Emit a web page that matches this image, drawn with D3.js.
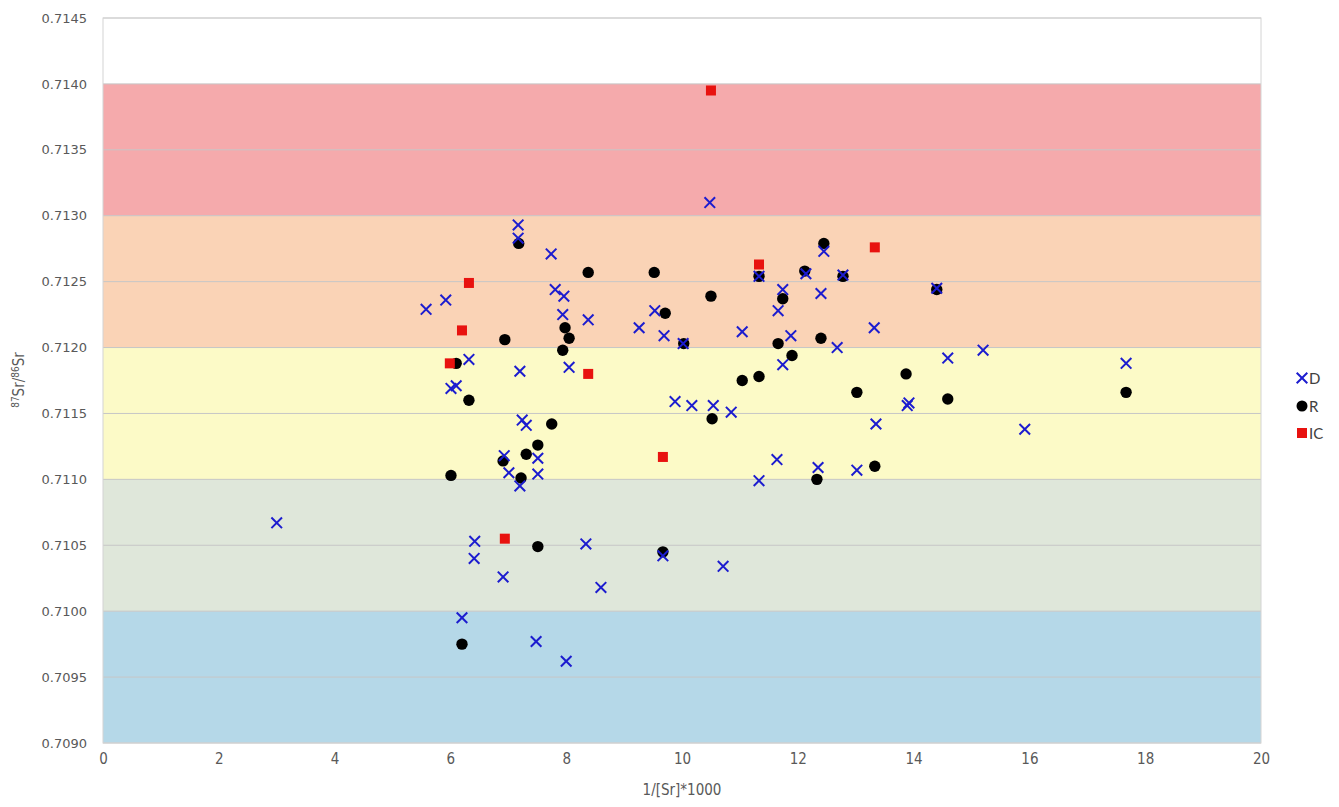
<!DOCTYPE html>
<html>
<head>
<meta charset="utf-8">
<script src="https://cdn.jsdelivr.net/npm/d3@7"></script>
<style>
  body { margin: 0; background: #fff; }
  svg { display: block; }
  .narrow { font-family: "DejaVu Sans Condensed", "DejaVu Sans", sans-serif; font-stretch: condensed; }
</style>
</head>
<body>
<svg id="chart" width="1339" height="807"></svg>
<script>
// D series (blue crosses)
var dX = [3.0, 5.58, 5.92, 6.01, 6.10, 6.32, 6.20, 6.42, 6.41, 6.91, 6.93, 7.01, 7.17, 7.17, 7.20, 7.24, 7.31, 7.20,
  7.74, 7.81, 7.96, 7.94, 8.05, 7.51, 7.51, 7.48, 8.0, 8.38, 8.34, 8.6, 9.26, 9.53, 9.69, 10.02, 9.88, 10.17,
  10.54, 10.85, 10.48, 9.67, 10.71, 11.04, 11.33, 11.33, 11.64, 11.66, 11.74, 11.74, 11.88, 12.14, 12.45, 12.40,
  12.68, 12.35, 12.78, 13.02, 13.32, 13.35, 13.89, 13.92, 14.40, 14.59, 15.2, 15.92, 17.67];
var dY = [0.71067, 0.71229, 0.71236, 0.71169, 0.71171, 0.71191, 0.70995, 0.71053, 0.71040, 0.71026, 0.71118, 0.71105,
  0.71293, 0.71283, 0.71182, 0.71145, 0.71141, 0.71095, 0.71271, 0.71244, 0.71239, 0.71225, 0.71185, 0.71116,
  0.71104, 0.70977, 0.70962, 0.71221, 0.71051, 0.71018, 0.71215, 0.71228, 0.71209, 0.71203, 0.71159, 0.71156,
  0.71156, 0.71151, 0.71310, 0.71042, 0.71034, 0.71212, 0.71254, 0.71099, 0.71115, 0.71228, 0.71244, 0.71187,
  0.71209, 0.71256, 0.71273, 0.71241, 0.71200, 0.71109, 0.71255, 0.71107, 0.71215, 0.71142, 0.71156, 0.71158,
  0.71245, 0.71192, 0.71198, 0.71138, 0.71188];

// R series (black circles)
var rX = [7.18, 8.38, 9.52, 9.71, 7.98, 8.05, 6.94, 7.94, 6.10, 6.32, 7.75, 12.45, 12.12, 12.78, 11.33, 14.40, 10.50,
  11.74, 11.66, 12.40, 11.90, 11.04, 11.33, 13.87, 13.02, 14.59, 10.52, 13.33, 12.33, 7.51, 7.31, 6.91, 6.01,
  7.22, 7.51, 9.67, 6.20, 17.67, 10.03];
var rY = [0.71279, 0.71257, 0.71257, 0.71226, 0.71215, 0.71207, 0.71206, 0.71198, 0.71188, 0.71160, 0.71142, 0.71279,
  0.71258, 0.71254, 0.71254, 0.71244, 0.71239, 0.71237, 0.71203, 0.71207, 0.71194, 0.71175, 0.71178, 0.71180,
  0.71166, 0.71161, 0.71146, 0.71110, 0.71100, 0.71126, 0.71119, 0.71114, 0.71103, 0.71101, 0.71049, 0.71045,
  0.70975, 0.71166, 0.71203];

// IC series (red squares)
var icX = [10.50, 6.32, 6.20, 5.99, 8.38, 11.33, 13.33, 9.67, 6.94];
var icY = [0.71395, 0.71249, 0.71213, 0.71188, 0.71180, 0.71263, 0.71276, 0.71117, 0.71055];

// background bands
var bandLo = [0.7090, 0.7100, 0.7110, 0.7120, 0.7130];
var bandHi = [0.7100, 0.7110, 0.7120, 0.7130, 0.7140];
var bandColor = ["#b5d8e8", "#dfe7da", "#fcfac7", "#fad3b6", "#f5aaac"];

var xTicks = [0, 2, 4, 6, 8, 10, 12, 14, 16, 18, 20];
var yTicks = [0.7090, 0.7095, 0.7100, 0.7105, 0.7110, 0.7115, 0.7120, 0.7125, 0.7130, 0.7135, 0.7140, 0.7145];

var svg = d3.select("#chart");
var mLeft = 103, mRight = 1261, mTop = 18, mBottom = 743;

var x = d3.scaleLinear().domain([0, 20]).range([mLeft, mRight]);
var y = d3.scaleLinear().domain([0.7090, 0.7145]).range([mBottom, mTop]);

var bands = bandLo.map(function (d, i) { return { lo: d, hi: bandHi[i], c: bandColor[i] }; });
svg.append("g").selectAll("rect").data(bands).enter().append("rect")
  .attr("x", x(0)).attr("width", x(20) - x(0))
  .attr("y", function (d) { return y(d.hi); })
  .attr("height", function (d) { return y(d.lo) - y(d.hi); })
  .attr("fill", function (d) { return d.c; });

// gridlines
svg.append("g").selectAll("line").data(yTicks).enter().append("line")
  .attr("x1", x(0)).attr("x2", x(20))
  .attr("y1", function (d) { return y(d); }).attr("y2", function (d) { return y(d); })
  .attr("stroke", "#c6c6c6").attr("stroke-width", 1);

svg.append("rect")
  .attr("x", x(0)).attr("y", y(0.7145))
  .attr("width", x(20) - x(0)).attr("height", y(0.7090) - y(0.7145))
  .attr("fill", "none").attr("stroke", "#d4d4d4");

// axes
var yAxis = d3.axisLeft(y).tickValues(yTicks).tickSize(0).tickPadding(16).tickFormat(d3.format(".4f"));
var gy = svg.append("g").attr("transform", "translate(" + mLeft + ",0)").call(yAxis);
gy.select(".domain").remove();
gy.selectAll("text").attr("font-family", "'DejaVu Sans', sans-serif").attr("font-size", "13px")
  .attr("fill", "#595959");

var xAxis = d3.axisBottom(x).tickValues(xTicks).tickSize(0).tickPadding(10);
var gx = svg.append("g").attr("transform", "translate(0," + mBottom + ")").call(xAxis);
gx.select(".domain").remove();
gx.selectAll("text").attr("class", "narrow").attr("font-family", null)
  .attr("font-size", "15px").attr("fill", "#595959");

svg.append("text")
  .attr("class", "narrow")
  .attr("x", (mLeft + mRight) / 2).attr("y", 795)
  .attr("text-anchor", "middle")
  .attr("font-size", "15px").attr("fill", "#595959")
  .text("1/[Sr]*1000");

var yt = svg.append("text")
  .attr("class", "narrow")
  .attr("transform", "translate(24,380) rotate(-90)")
  .attr("text-anchor", "middle")
  .attr("font-size", "15px").attr("fill", "#595959");
yt.append("tspan").attr("font-size", "10px").attr("dy", "-5").text("87");
yt.append("tspan").attr("dy", "5").text("Sr/");
yt.append("tspan").attr("font-size", "10px").attr("dy", "-5").text("86");
yt.append("tspan").attr("dy", "5").text("Sr");

// markers
var rData = rX.map(function (d, i) { return [d, rY[i]]; });
var dData = dX.map(function (d, i) { return [d, dY[i]]; });
var icData = icX.map(function (d, i) { return [d, icY[i]]; });

svg.append("g").selectAll("circle").data(rData).enter().append("circle")
  .attr("cx", function (d) { return x(d[0]); })
  .attr("cy", function (d) { return y(d[1]); })
  .attr("r", 5.7).attr("fill", "#000");

var cross = d3.symbol().type(d3.symbolX).size(75);
svg.append("g").selectAll("path").data(dData).enter().append("path")
  .attr("d", cross)
  .attr("transform", function (d) { return "translate(" + x(d[0]) + "," + y(d[1]) + ")"; })
  .attr("fill", "none").attr("stroke", "#1c1ccf").attr("stroke-width", 2);

svg.append("g").selectAll("rect").data(icData).enter().append("rect")
  .attr("x", function (d) { return x(d[0]) - 5; })
  .attr("y", function (d) { return y(d[1]) - 5; })
  .attr("width", 10).attr("height", 10)
  .attr("fill", "#e8120f");

// legend
var lg = svg.append("g").attr("font-family", "Lato, 'Open Sans', sans-serif").attr("font-size", "15px")
  .attr("fill", "#404040");
lg.append("path").attr("d", cross).attr("transform", "translate(1302,378)")
  .attr("fill", "none").attr("stroke", "#1c1ccf").attr("stroke-width", 2);
lg.append("text").attr("x", 1309).attr("y", 383.5).text("D");
lg.append("circle").attr("cx", 1302).attr("cy", 406).attr("r", 5.5).attr("fill", "#000");
lg.append("text").attr("x", 1309).attr("y", 411.5).text("R");
lg.append("rect").attr("x", 1297).attr("y", 428).attr("width", 10).attr("height", 10).attr("fill", "#e8120f");
lg.append("text").attr("x", 1309).attr("y", 439).text("IC");
</script>
</body>
</html>
